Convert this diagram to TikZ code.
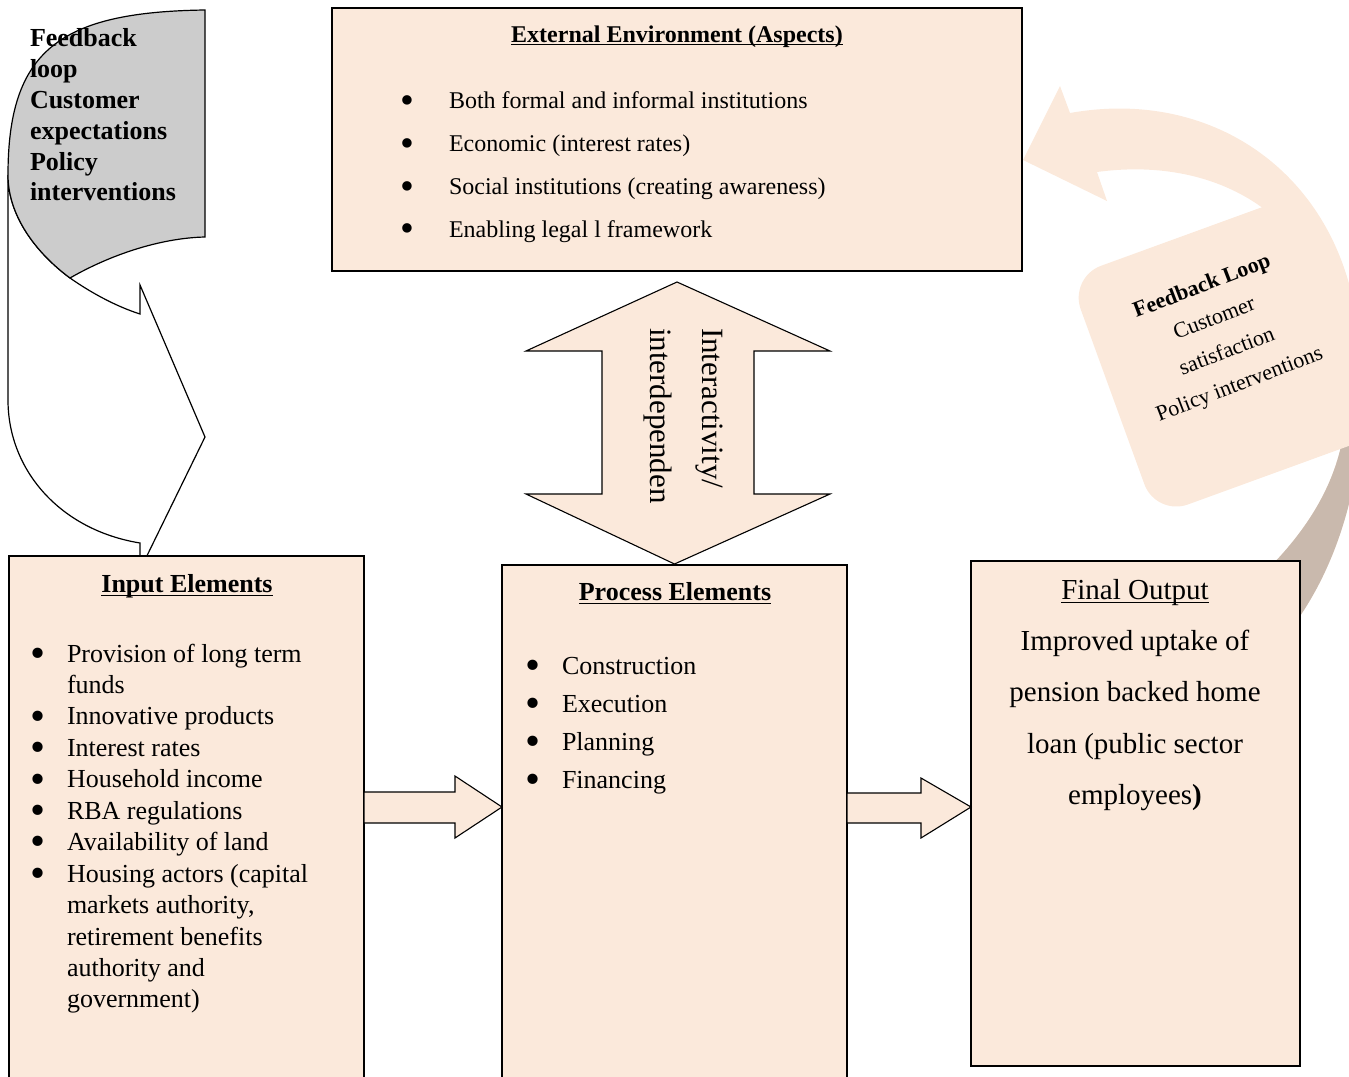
\documentclass[tikz,border=0pt]{standalone}
\usepackage{graphicx}
\usepackage{fontspec}
\setmainfont{Liberation Serif}
\definecolor{peach}{HTML}{FBE9DB}
\definecolor{taupe}{HTML}{C9B9AD}
\definecolor{callgray}{HTML}{CCCCCC}
\newcommand{\fs}[2]{\fontsize{#1}{#2}\selectfont}
\newcommand{\myul}[1]{\setbox0\hbox{#1}\rlap{\rule[-0.13em]{\wd0}{0.055em}}\box0}
\newcommand{\bul}[1]{\makebox[#1][l]{\raisebox{-0.2em}{\scalebox{1.65}{\textbullet}}}}
\begin{document}
\begin{tikzpicture}[x=1pt,y=-1pt,
  box/.style={draw=black, line width=1.6pt, fill=peach, inner sep=0pt, outer sep=0pt, anchor=north west},
  blockarrow/.style={draw=black, line width=1.1pt, fill=peach, line join=miter},
  callout/.style={draw=black, line width=1.2pt, line join=miter},
  txt/.style={inner sep=0pt, outer sep=0pt, text=black}
]
\useasboundingbox (0,0) rectangle (1349,1076);
\clip (0,0) rectangle (1349,1076);

% ---- right circular feedback arrow (background)
\path[fill=peach] (1070,113) .. controls (1210,88) and (1330,170) .. (1355,310)
  .. controls (1375,420) and (1355,545) .. (1290,630) -- (1262,575)
  .. controls (1360,480) and (1360,390) .. (1325,290)
  .. controls (1290,200) and (1200,158) .. (1097,172)
  -- (1107,201) -- (1023,160) -- (1060,86) -- cycle;
\begin{scope}
\clip (1150,400) rectangle (1400,700);
\path[fill=taupe] (1070,113) .. controls (1210,88) and (1330,170) .. (1355,310)
  .. controls (1375,420) and (1355,545) .. (1290,630) -- (1262,575)
  .. controls (1360,480) and (1360,390) .. (1325,290)
  .. controls (1290,200) and (1200,158) .. (1097,172) -- cycle;
\end{scope}
\node[fill=peach, rotate=20, minimum width=250pt, minimum height=254pt,
  rounded corners=34pt, inner sep=0pt, outer sep=0pt] (fbbox) at (1230,354) {};
\node[txt, rotate=21, align=center, font={\fs{22}{35}}] (fbtext) at (1221,336)
  {\textbf{Feedback Loop}\\Customer\\satisfaction\\Policy interventions};

% ---- left curved callout arrow
\path[callout, fill=white] (8,175) -- (8,400) .. controls (8,470) and (60,530) .. (140,543)
  -- (140,570) -- (205,437) -- (140,285) -- (140,314)
  .. controls (115,306) and (90,292) .. (70,278)
  .. controls (35,252) and (8,215) .. (8,175) -- cycle;
\path[callout, fill=callgray] (205,10) .. controls (60,12) and (8,50) .. (8,175)
  .. controls (8,215) and (35,252) .. (70,278)
  .. controls (110,255) and (160,238) .. (205,237) -- cycle;
\node[txt, anchor=north west, align=left, font={\fs{26}{30.8}\bfseries}] (fbleft) at (30,25.4)
  {\strut Feedback\\loop\\Customer\\expectations\\Policy\\interventions};

% ---- boxes
\node[box, minimum width=690pt, minimum height=263pt] (ext) at (332,8) {};
\node[box, minimum width=355pt, minimum height=540pt] (inp) at (9,556) {};
\node[box, minimum width=345pt, minimum height=530pt] (proc) at (502,565) {};
\node[box, minimum width=329pt, minimum height=505pt] (fin) at (971,561) {};

% ---- double arrow
\path[blockarrow] (ext.south |- 0,282) -- (830,351) -- (754,351) -- (754,494) -- (830,494)
  -- (proc.north |- 0,564) -- (526,494) -- (602,494) -- (602,351) -- (526,351) -- cycle;
\node[txt, rotate=-90, anchor=base west, font={\fs{31}{37}}] (inter1) at (702,328) {Interactivity/};
\node[txt, rotate=-90, anchor=base west, font={\fs{31}{37}}] (inter2) at (650,328) {interdependen};

% ---- block arrows between boxes
\path[blockarrow] (inp.north east |- 0,792) -- (455,792) -- (455,776) -- (proc.north west |- 0,807)
  -- (455,838) -- (455,823) -- (inp.north east |- 0,823) -- cycle;
\path[blockarrow] (proc.north east |- 0,793) -- (921,793) -- (921,778) -- (fin.north west |- 0,807)
  -- (921,838) -- (921,823) -- (proc.north east |- 0,823) -- cycle;

% ---- External environment text
\node[txt, anchor=base, font={\fs{24}{29}\bfseries}] (extT) at (677,42) {\myul{External Environment (Aspects)}};
\node[txt, anchor=north west, align=left, font={\fs{24}{42.7}}] (extL) at (400,79.1)
  {\strut\bul{49pt}Both formal and informal institutions\\
   \bul{49pt}Economic (interest rates)\\
   \bul{49pt}Social institutions (creating awareness)\\
   \bul{49pt}Enabling legal l framework};

% ---- Input elements text
\node[txt, anchor=base, font={\fs{26}{31}\bfseries}] (inpT) at (187,592.6) {\myul{Input Elements}};
\node[txt, anchor=north west, align=left, font={\fs{26}{31.45}}] (inpL) at (30,640)
  {\strut\bul{37pt}Provision of long term\\
   \hspace*{37pt}funds\\
   \bul{37pt}Innovative products\\
   \bul{37pt}Interest rates\\
   \bul{37pt}Household income\\
   \bul{37pt}RBA regulations\\
   \bul{37pt}Availability of land\\
   \bul{37pt}Housing actors (capital\\
   \hspace*{37pt}markets authority,\\
   \hspace*{37pt}retirement benefits\\
   \hspace*{37pt}authority and\\
   \hspace*{37pt}government)};

% ---- Process elements text
\node[txt, anchor=base, font={\fs{26}{31}\bfseries}] (procT) at (675,600.6) {\myul{Process Elements}};
\node[txt, anchor=north west, align=left, font={\fs{26}{38}}] (procL) at (525.5,647.4)
  {\strut\bul{36.5pt}Construction\\
   \bul{36.5pt}Execution\\
   \bul{36.5pt}Planning\\
   \bul{36.5pt}Financing};

% ---- Final output text
\node[txt, anchor=base, font={\fs{29}{34}}] (finT) at (1135,599.6) {\myul{Final Output}};
\node[txt, anchor=north, align=center, font={\fs{29}{51.5}}] (finL) at (1135,614)
  {\strut Improved uptake of\\pension backed home\\loan (public sector\\employees\textbf{)}};
\end{tikzpicture}
\end{document}
